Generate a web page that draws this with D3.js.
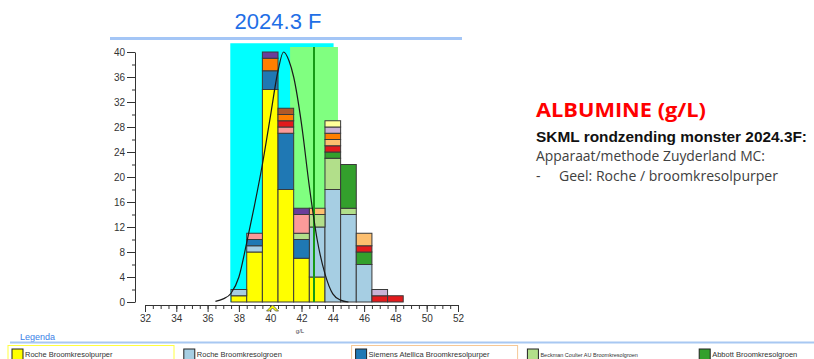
<!DOCTYPE html>
<html lang="nl">
<head>
    <meta charset="utf-8">
    <title>Albumine 2024.3 F</title>
    <script src="https://d3js.org/d3.v7.min.js"></script>
    <style>
        body {
            margin: 0;
            background: #fff;
        }
        .axis text {
            font-family: "Liberation Sans", Arial, sans-serif;
            font-size: 10px;
            fill: #333;
        }
        .axis path, .axis line {
            stroke: #333;
        }
    </style>
</head>
<body>
    <svg id="chart" width="814" height="359"></svg>

    <script>
        // bin centres (g/L), each bar spans centre +/- 0.5
        const bins = [38, 39, 40, 41, 42, 43, 44, 45, 46, 47, 48];

        // method groups, bottom to top in the stack
        const methods = [
            "Roche Broomkresolpurper", "Roche Broomkresolgroen", "Siemens Atellica Broomkresolpurper",
            "Beckman Coulter AU Broomkresolgroen", "Abbott Broomkresolgroen", "Methode 6", "Methode 7",
            "Methode 8", "Methode 9", "Methode 10", "Methode 11", "Methode 12", "Methode 13"
        ];
        const methodColors = [
            "#ffff00", "#a6cee3", "#1f78b4", "#b2df8a", "#33a02c", "#fb9a99", "#e31a1c",
            "#fdbf6f", "#ff7f00", "#cab2d6", "#6a3d9a", "#ffff99", "#b15928"
        ];

        // counts per bin, one array per method
        const rochePurper   = [1, 8, 34, 18, 7, 4, 0, 0, 0, 0, 0];
        const rocheGroen    = [1, 1, 0, 0, 0, 8, 18, 14, 6, 0, 0];
        const siemens       = [0, 1, 3, 9, 3, 0, 0, 0, 0, 0, 0];
        const beckman       = [0, 0, 0, 0, 1, 2, 5, 1, 0, 0, 0];
        const abbott        = [0, 0, 0, 0, 0, 0, 1, 7, 2, 0, 0];
        const methode6      = [0, 1, 0, 1, 3, 0, 0, 0, 0, 0, 0];
        const methode7      = [0, 0, 0, 1, 0, 0, 1, 0, 1, 1, 1];
        const methode8      = [0, 0, 0, 0, 0, 1, 1, 0, 2, 0, 0];
        const methode9      = [0, 0, 2, 1, 0, 0, 1, 0, 0, 0, 0];
        const methode10     = [0, 0, 0, 0, 0, 0, 1, 0, 0, 1, 0];
        const methode11     = [0, 0, 1, 0, 1, 0, 0, 0, 0, 0, 0];
        const methode12     = [0, 0, 0, 0, 0, 0, 1, 0, 0, 0, 0];
        const methode13     = [0, 0, 0, 1, 0, 0, 0, 0, 0, 0, 0];
        const counts = [rochePurper, rocheGroen, siemens, beckman, abbott, methode6, methode7,
                        methode8, methode9, methode10, methode11, methode12, methode13];

        // fitted curve
        const curveX = [36.5, 37.0, 37.5, 38.0, 38.5, 39.0, 39.5, 40.0, 40.5, 40.85, 41.2, 41.5, 42.0, 42.5, 43.0, 43.5, 44.0, 44.5, 45.0];
        const curveY = [0.1, 0.5, 1.4, 4, 9.5, 15.5, 22, 29.5, 37, 40, 38.6, 36, 28.5, 18.5, 10, 4.5, 1.3, 0.3, 0];

        // ranges: [low, high, top]
        const cyanRange = [37.45, 44.05, 41.4];
        const greenRange = [41.27, 44.33, 40.8];
        const ownResult = 42.8;
        const markerValue = 40.15;

        const xTicks = [32, 34, 36, 38, 40, 42, 44, 46, 48, 50, 52];
        const yTicks = [0, 4, 8, 12, 16, 20, 24, 28, 32, 36, 40];

        const legendItems = methods.slice(0, 5);
        const legendBorders = ["#ffff40", "none", "#f6c896", "none", "none"];

        const svg = d3.select("#chart");
        const font = "'Liberation Sans', Arial, sans-serif";

        const x = d3.scaleLinear().domain([32, 52]).range([145, 458]);
        const y = d3.scaleLinear().domain([0, 40]).range([302, 52]);

        // title
        svg.append("text")
            .attr("x", 278).attr("y", 29)
            .attr("text-anchor", "middle")
            .style("font-family", font).style("font-size", "22px")
            .style("fill", "#1f6fe6")
            .text("2024.3 F");
        svg.append("line")
            .attr("x1", 110).attr("x2", 462).attr("y1", 38.5).attr("y2", 38.5)
            .style("stroke", "#a4c6f6").style("stroke-width", 3);

        // bands
        svg.append("rect")
            .attr("x", x(cyanRange[0])).attr("y", y(cyanRange[2]))
            .attr("width", x(cyanRange[1]) - x(cyanRange[0]))
            .attr("height", y(0) - y(cyanRange[2]))
            .style("fill", "#00ffff");
        svg.append("rect")
            .attr("x", x(greenRange[0])).attr("y", y(greenRange[2]))
            .attr("width", x(greenRange[1]) - x(greenRange[0]))
            .attr("height", y(0) - y(greenRange[2]))
            .style("fill", "#80ff80");

        // stacked bars
        const table = bins.map((b, i) => {
            const row = { bin: b };
            methods.forEach((m, j) => row[m] = counts[j][i]);
            return row;
        });
        const stacked = d3.stack().keys(methods)(table);

        svg.append("g")
            .selectAll("g")
            .data(stacked)
            .join("g")
            .style("fill", (d, i) => methodColors[i])
            .selectAll("rect")
            .data(d => d.filter(s => s[1] > s[0]))
            .join("rect")
            .attr("x", d => x(d.data.bin - 0.5))
            .attr("y", d => y(d[1]))
            .attr("width", d => x(d.data.bin + 0.5) - x(d.data.bin - 0.5))
            .attr("height", d => y(d[0]) - y(d[1]))
            .style("stroke", "#3a3a3a")
            .style("stroke-width", 1);

        // own result line
        svg.append("line")
            .attr("x1", x(ownResult)).attr("x2", x(ownResult))
            .attr("y1", y(greenRange[2])).attr("y2", y(0))
            .style("stroke", "#169a16").style("stroke-width", 2);

        // curve
        const line = d3.line()
            .x((d, i) => x(curveX[i]))
            .y(d => y(d))
            .curve(d3.curveMonotoneX);
        svg.append("path")
            .datum(curveY)
            .attr("d", line)
            .style("fill", "none")
            .style("stroke", "#1a1a1a")
            .style("stroke-width", 1.2);

        // y axis
        const yAxis = svg.append("g").attr("class", "axis")
            .attr("transform", "translate(135,0)");
        yAxis.call(d3.axisLeft(y).tickValues(d3.range(0, 41, 2)).tickSize(3).tickFormat(""));
        yAxis.call(g => g.select(".domain").remove());
        svg.append("g").attr("class", "axis")
            .attr("transform", "translate(135,0)")
            .call(d3.axisLeft(y).tickValues(yTicks).tickSize(8).tickPadding(2).tickSizeOuter(0));

        // x axis
        const xAxisY = 305;
        svg.append("g").attr("class", "axis")
            .attr("transform", `translate(0,${xAxisY})`)
            .call(d3.axisBottom(x).tickValues(d3.range(32, 52.01, 0.5)).tickSize(4).tickFormat(""))
            .call(g => g.select(".domain").remove());
        svg.append("g").attr("class", "axis")
            .attr("transform", `translate(0,${xAxisY})`)
            .call(d3.axisBottom(x).tickValues(xTicks).tickSize(7).tickPadding(3).tickSizeOuter(0));

        svg.append("text")
            .attr("x", 300).attr("y", 333)
            .attr("text-anchor", "middle")
            .style("font-family", font).style("font-size", "6px").style("fill", "#444")
            .text("g/L");

        // marker on axis
        const mx = x(markerValue);
        svg.append("path")
            .attr("d", `M${mx - 6},${xAxisY + 6} L${mx},${xAxisY} L${mx + 6},${xAxisY + 6} L${mx + 3},${xAxisY + 6} L${mx},${xAxisY + 3} L${mx - 3},${xAxisY + 6} Z`)
            .style("fill", "#ffff00").style("stroke", "#555").style("stroke-width", 0.8);

        // text block on the right
        const textFont = "'Open Sans', 'Noto Sans', sans-serif";
        svg.append("text")
            .attr("x", 536).attr("y", 117)
            .attr("textLength", 170).attr("lengthAdjust", "spacingAndGlyphs")
            .style("font-family", textFont).style("font-size", "19px").style("font-weight", "bold")
            .style("fill", "#ff0000")
            .text("ALBUMINE (g/L)");
        svg.append("text")
            .attr("x", 536).attr("y", 141.5)
            .attr("textLength", 271).attr("lengthAdjust", "spacingAndGlyphs")
            .style("font-family", font).style("font-size", "15.5px").style("font-weight", "bold")
            .style("fill", "#111")
            .text("SKML rondzending monster 2024.3F:");
        svg.append("text")
            .attr("x", 536).attr("y", 161)
            .attr("textLength", 229).attr("lengthAdjust", "spacingAndGlyphs")
            .style("font-family", textFont).style("font-size", "14px")
            .style("fill", "#404040")
            .text("Apparaat/methode Zuyderland MC:");
        svg.append("text")
            .attr("x", 536).attr("y", 180.5)
            .style("font-family", textFont).style("font-size", "14px")
            .style("fill", "#404040")
            .text("-");
        svg.append("text")
            .attr("x", 559).attr("y", 180.5)
            .attr("textLength", 219).attr("lengthAdjust", "spacingAndGlyphs")
            .style("font-family", textFont).style("font-size", "14px")
            .style("fill", "#404040")
            .text("Geel: Roche / broomkresolpurper");

        // legend strip
        svg.append("text")
            .attr("x", 20).attr("y", 339.5)
            .style("font-family", font).style("font-size", "9px")
            .style("fill", "#3b7fe6")
            .text("Legenda");
        svg.append("line")
            .attr("x1", 10).attr("x2", 814).attr("y1", 342.5).attr("y2", 342.5)
            .style("stroke", "#a8c8f2").style("stroke-width", 2);

        const legend = svg.append("g")
            .selectAll("g")
            .data(legendItems)
            .join("g")
            .attr("transform", (d, i) => `translate(${8 + i * 171.8},345.5)`);
        legend.append("rect")
            .attr("width", 166).attr("height", 18)
            .style("fill", "none")
            .style("stroke", (d, i) => legendBorders[i])
            .style("stroke-width", 1);
        legend.append("rect")
            .attr("x", 4).attr("y", 3.5).attr("width", 11).attr("height", 11)
            .style("fill", (d, i) => methodColors[i])
            .style("stroke", "#222").style("stroke-width", 1);
        legend.append("text")
            .attr("x", 17).attr("y", 11.5)
            .style("font-family", font)
            .style("font-size", d => d.startsWith("Beckman") ? "5.5px" : "7.5px")
            .style("fill", "#333")
            .text(d => d);
    </script>
</body>
</html>
